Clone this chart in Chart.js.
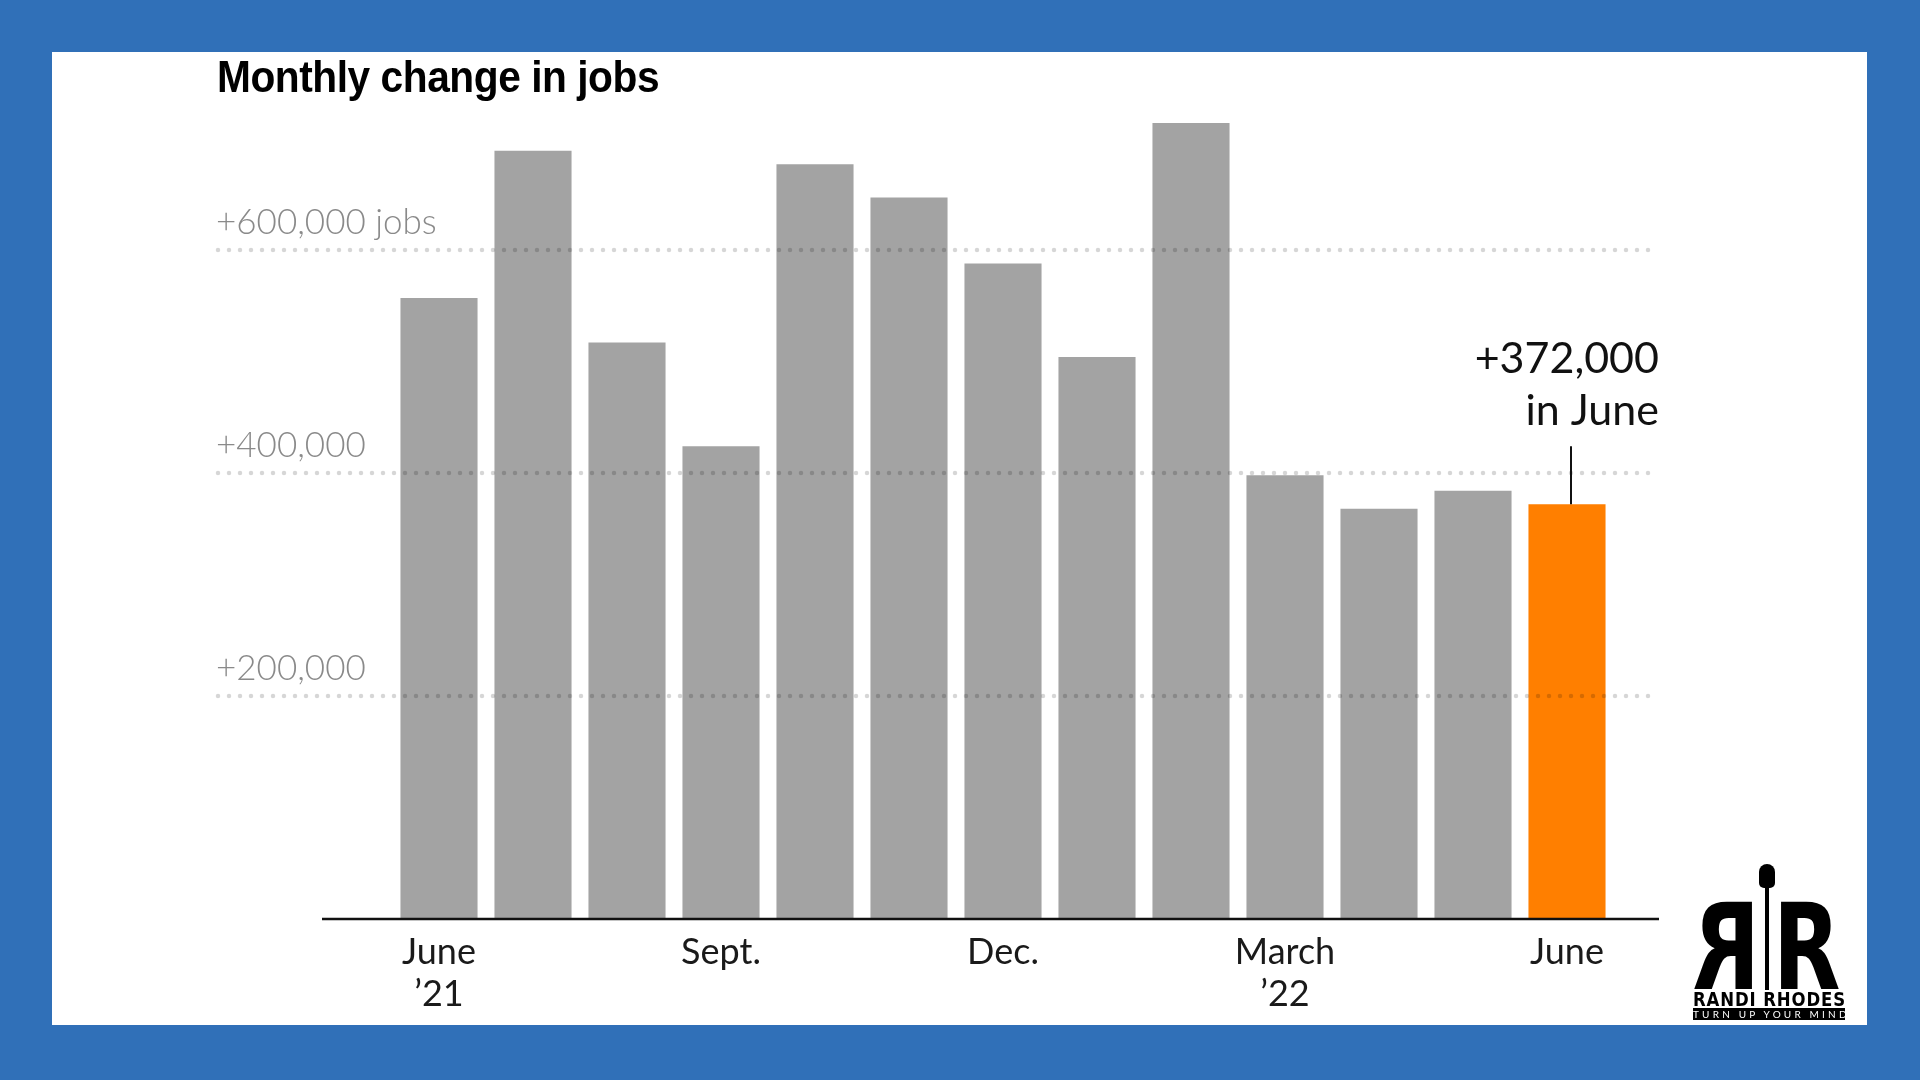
<!DOCTYPE html>
<html lang="en">
<head>
    <meta charset="UTF-8">
    <title>Monthly change in jobs</title>
    <script src="https://cdn.jsdelivr.net/npm/chart.js@4.4.0/dist/chart.umd.min.js"></script>
    <style>
        html, body { margin:0; padding:0; }
        body { width:1920px; height:1080px; background:#3070b8; position:relative; overflow:hidden; }
        #panel { position:absolute; left:52px; top:52px; width:1815px; height:973px; background:#fff; }
        #chart1 { position:absolute; left:0; top:0; }
        #title { position:absolute; left:217px; top:52px; line-height:44px; font:bold 44px "Liberation Sans", Arial, sans-serif; letter-spacing:-0.5px; color:#000; white-space:nowrap; transform-origin:0 0; transform:scaleX(0.925); }
        /* logo, rough copy */
        #logo { position:absolute; left:1690px; top:862px; width:160px; height:160px; }
        #logo .mic { position:absolute; left:69px; top:2px; width:16px; height:24px; border-radius:8px 8px 5px 5px; background:#000; }
        #logo .stand { position:absolute; left:75px; top:20px; width:4px; height:108px; background:#000; }
        #logo .r { position:absolute; top:26px; width:92px; font:bold 120px "DejaVu Sans", sans-serif; line-height:120px; color:#000; transform-origin:0 0; }
        #logo .r.left { left:3px; transform:translateX(67px) scaleX(-0.73); }
        #logo .r.right { left:83px; transform:scaleX(0.73); }
        #logo .name { position:absolute; left:3px; top:128px; font:bold 19px "DejaVu Sans", sans-serif; line-height:18px; letter-spacing:1px; white-space:nowrap; transform-origin:0 0; transform:scaleX(0.87); color:#000; }
        #logo .tag { position:absolute; left:3px; top:146px; width:152px; height:12px; background:#000; color:#fff; font:10px Lato, sans-serif; line-height:12px; letter-spacing:3.2px; text-align:center; white-space:nowrap; }
    </style>
</head>
<body>
    <div id="panel"></div>
    <canvas id="chart1" width="1920" height="1080"></canvas>
    <div id="title">Monthly change in jobs</div>
    <div id="logo">
        <div class="r left">R</div>
        <div class="r right">R</div>
        <div class="stand"></div>
        <div class="mic"></div>
        <div class="name">RANDI RHODES</div>
        <div class="tag">TURN UP YOUR MIND</div>
    </div>
<script>
    // monthly job gains, June 2021 .. June 2022
    const months = ['June 2021','July','Aug.','Sept.','Oct.','Nov.','Dec.','Jan. 2022','Feb.','March','April','May','June 2022'];
    const jobs = [557000, 689000, 517000, 424000, 677000, 647000, 588000, 504000, 714000, 398000, 368000, 384000, 372000];
    const tickLabels = [['June','\u201921'], '', '', 'Sept.', '', '', 'Dec.', '', '', ['March','\u201922'], '', '', 'June'];
    const yTicks = [200000, 400000, 600000];
    const yTickLabels = ['+200,000', '+400,000', '+600,000 jobs'];
    const noteText = 'in June';

    const GRAY = '#a3a3a3';
    const ORANGE = '#ff7f00';
    const GRID_LEFT = 216, GRID_RIGHT = 1659, AXIS_LEFT = 322;

    const decor = {
        id: 'decor',
        afterDatasetsDraw(chart) {
            const ctx = chart.ctx;
            const x = chart.scales.x, y = chart.scales.y;
            ctx.save();

            // dotted gridlines, drawn over the bars
            ctx.strokeStyle = 'rgba(0,0,0,0.16)';
            ctx.lineWidth = 4.5;
            ctx.lineCap = 'round';
            ctx.setLineDash([0, 11]);
            yTicks.forEach(v => {
                const py = Math.round(y.getPixelForValue(v));
                ctx.beginPath();
                ctx.moveTo(GRID_LEFT + 2, py);
                ctx.lineTo(GRID_RIGHT, py);
                ctx.stroke();
            });
            ctx.setLineDash([]);

            // y labels above the lines
            ctx.font = '300 35px Lato';
            ctx.fillStyle = '#8a8a8a';
            ctx.textAlign = 'left';
            ctx.textBaseline = 'alphabetic';
            yTicks.forEach((v, i) => {
                ctx.fillText(yTickLabels[i], GRID_LEFT, y.getPixelForValue(v) - 16);
            });

            // zero line
            const y0 = y.getPixelForValue(0);
            ctx.strokeStyle = '#111';
            ctx.lineWidth = 2.5;
            ctx.lineCap = 'butt';
            ctx.beginPath();
            ctx.moveTo(AXIS_LEFT, y0);
            ctx.lineTo(GRID_RIGHT, y0);
            ctx.stroke();

            // note on the last bar
            const last = jobs.length - 1;
            const xp = x.getPixelForValue(last) + 4;
            const yp = y.getPixelForValue(jobs[last]);
            ctx.lineWidth = 2;
            ctx.beginPath();
            ctx.moveTo(xp, yp);
            ctx.lineTo(xp, yp - 58);
            ctx.stroke();
            ctx.font = '43px Lato';
            ctx.fillStyle = '#111';
            ctx.textAlign = 'right';
            ctx.fillText('+' + jobs[last].toLocaleString('en-US'), GRID_RIGHT, yp - 131);
            ctx.fillText(noteText, GRID_RIGHT, yp - 79);

            ctx.restore();
        }
    };

    const ctx = document.getElementById('chart1').getContext('2d');
    new Chart(ctx, {
        type: 'bar',
        data: {
            labels: months,
            datasets: [{
                data: jobs,
                backgroundColor: c => c.dataIndex === jobs.length - 1 ? ORANGE : GRAY,
                borderWidth: 0,
                barPercentage: 0.82,
                categoryPercentage: 1
            }]
        },
        options: {
            responsive: false,
            animation: false,
            layout: { padding: { left: 392, right: 306, top: 27, bottom: 41 } },
            plugins: { legend: { display: false }, tooltip: { enabled: false } },
            scales: {
                x: {
                    grid: { display: false, drawTicks: false },
                    border: { display: false },
                    ticks: {
                        autoSkip: false,
                        maxRotation: 0,
                        padding: 12,
                        color: '#1a1a1a',
                        font: { family: 'Lato', size: 36, lineHeight: 1.17 },
                        callback: (v, i) => tickLabels[i]
                    },
                    afterFit: s => { s.height = 120; }
                },
                y: { display: false, min: 0, max: 800000 }
            }
        },
        plugins: [decor]
    });
</script>
</body>
</html>
